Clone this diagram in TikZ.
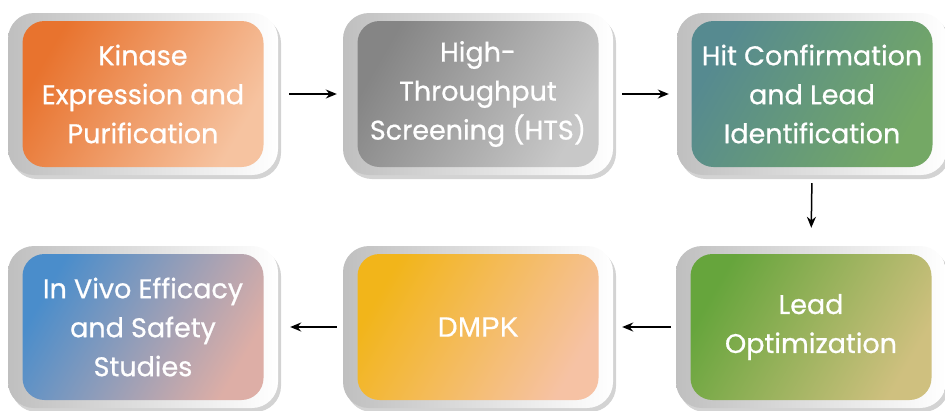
\documentclass[tikz,border=0pt]{standalone}
\usepackage{fontspec}
\setmainfont{Poppins}[FakeBold=0.7]
\newfontfamily\dmpkfont{Liberation Sans}[FakeBold=0.5]
\usetikzlibrary{shadows,arrows.meta}
\definecolor{kinA}{HTML}{E8732E}
\definecolor{kinB}{HTML}{F6C3A0}
\definecolor{htsA}{HTML}{858585}
\definecolor{htsB}{HTML}{C8C8C8}
\definecolor{hitA}{HTML}{568A90}
\definecolor{hitB}{HTML}{74A865}
\definecolor{leadA}{HTML}{66A53C}
\definecolor{leadB}{HTML}{CFC07F}
\definecolor{dmpkA}{HTML}{F2B51A}
\definecolor{dmpkB}{HTML}{F6C2A4}
\definecolor{vivoA}{HTML}{4A8DCB}
\definecolor{vivoB}{HTML}{DDAEA6}

\begin{document}
\begin{tikzpicture}[x=1pt, y=-1pt,
	frame/.style={rectangle, rounded corners=26pt, minimum width=270pt, minimum height=162pt, left color=black!25, right color=white, drop shadow={opacity=0.35, shadow xshift=3pt, shadow yshift=-4pt}},
	card/.style 2 args={rectangle, rounded corners=22pt, minimum width=241pt, minimum height=146pt, left color=#1, right color=#2, shading angle=60, text=white, align=center, font=\fontsize{27}{39}\selectfont},
	flow/.style={-{Stealth[length=11pt, width=9pt]}, line width=1.5pt}]
\useasboundingbox (0,0) rectangle (945,410);
\node [frame] (f1) at (143,94) {};
\node [card={kinA}{kinB}] (kinase) at (f1) {Kinase\\Expression and\\Purification};
\node [frame] (f2) at (478,94) {};
\node [card={htsA}{htsB}] (hts) at (f2) {High-\\Throughput\\Screening (HTS)};
\node [frame] (f3) at (812,94) {};
\node [card={hitA}{hitB}] (hit) at (f3) {Hit Confirmation\\and Lead\\Identification};
\node [frame] (f4) at (811,327) {};
\node [card={leadA}{leadB}] (lead) at (f4) {Lead\\Optimization};
\node [frame] (f5) at (478,327) {};
\node [card={dmpkA}{dmpkB}, font=\dmpkfont\fontsize{28}{34}\selectfont] (dmpk) at (f5) {DMPK};
\node [frame] (f6) at (143,327) {};
\node [card={vivoA}{vivoB}] (vivo) at (f6) {In Vivo Efficacy\\and Safety\\Studies};
\draw [flow, shorten <=11pt, shorten >=6pt] (f1.east) -- (f2.west);
\draw [flow, shorten <=9pt, shorten >=8pt] (f2.east) -- (f3.west);
\draw [flow, shorten <=8pt, shorten >=18pt] (f3.south) -- (f4.north);
\draw [flow, shorten <=5pt, shorten >=9pt] (f4.west) -- (f5.east);
\draw [flow, shorten <=6pt, shorten >=12pt] (f5.west) -- (f6.east);
\end{tikzpicture}
\end{document}
